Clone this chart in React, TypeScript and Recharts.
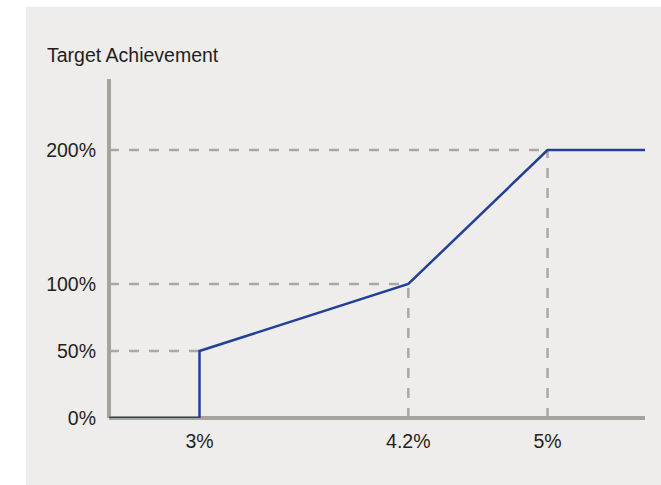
import { LineChart, Line, XAxis, YAxis, ReferenceLine } from "recharts";

// x = growth threshold (%), y = target achievement (%)
const growthPoints = [2.48, 3, 3, 4.2, 5, 5.56];
const achievementPoints = [0, 0, 50, 100, 200, 200];
const xTicks = [3, 4.2, 5];
const yTicks = [0, 50, 100, 200];
// corners of the dashed guide lines
const guideX = [3, 4.2, 5];
const guideY = [50, 100, 200];
const verticalGuideX = [4.2, 5];
const verticalGuideY = [100, 200];

const xDomain: [number, number] = [2.48, 5.56];
const yDomain: [number, number] = [0, 253];

const chartData = growthPoints.map((x, i) => ({ x, y: achievementPoints[i] }));

const axisColor = "#a9a39e";
const guideColor = "#aca7a2";
const lineColor = "#21409a";
const textColor = "#231f20";
const font = "'Liberation Sans', Arial, sans-serif";
const fontSize = 19.5;

export default function App() {
    return (
        <div
            style={{
                position: "absolute",
                left: 26,
                top: 7,
                width: 635,
                height: 478,
                background: "#eeedeb",
                fontFamily: font,
            }}
        >
            <div
                style={{
                    position: "absolute",
                    left: 21,
                    top: 38,
                    fontSize,
                    lineHeight: "20px",
                    color: textColor,
                    whiteSpace: "nowrap",
                }}
            >
                Target Achievement
            </div>
            <LineChart
                width={635}
                height={478}
                data={chartData}
                margin={{ top: 72, right: 16, left: 0, bottom: 37 }}
            >
                <XAxis
                    type="number"
                    dataKey="x"
                    domain={xDomain}
                    allowDataOverflow
                    ticks={xTicks}
                    tickFormatter={(v: number) => `${v}%`}
                    tickLine={false}
                    tickMargin={10}
                    height={30}
                    axisLine={{ stroke: axisColor, strokeWidth: 4 }}
                    tick={{ fill: textColor, fontSize, fontFamily: font }}
                />
                <YAxis
                    type="number"
                    domain={yDomain}
                    allowDataOverflow
                    ticks={yTicks}
                    tickFormatter={(v: number) => `${v}%`}
                    tickLine={false}
                    tickMargin={7}
                    width={83}
                    axisLine={{ stroke: axisColor, strokeWidth: 4 }}
                    tick={{ fill: textColor, fontSize, fontFamily: font }}
                />
                {guideY.map((y, i) => (
                    <ReferenceLine
                        key={`h-${i}`}
                        segment={[{ x: xDomain[0], y }, { x: guideX[i], y }]}
                        stroke={guideColor}
                        strokeWidth={2.5}
                        strokeDasharray="10 10"
                        ifOverflow="visible"
                    />
                ))}
                {verticalGuideX.map((x, i) => (
                    <ReferenceLine
                        key={`v-${i}`}
                        segment={[{ x, y: 0 }, { x, y: verticalGuideY[i] }]}
                        stroke={guideColor}
                        strokeWidth={2.5}
                        strokeDasharray="10 10"
                        ifOverflow="visible"
                    />
                ))}
                <Line
                    type="linear"
                    dataKey="y"
                    stroke={lineColor}
                    strokeWidth={2.5}
                    dot={false}
                    activeDot={false}
                    isAnimationActive={false}
                    zIndex={1000}
                />
            </LineChart>
        </div>
    );
}
